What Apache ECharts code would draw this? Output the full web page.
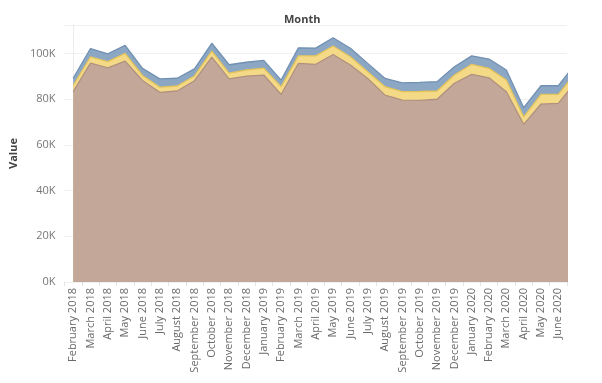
<!DOCTYPE html>
<html>
<head>
<meta charset="utf-8">
<script src="https://cdn.jsdelivr.net/npm/echarts@6/dist/echarts.min.js"></script>
<style>
html,body{margin:0;padding:0;background:#fff;}
#c{width:602px;height:383px;}
</style>
</head>
<body>
<div id="c"></div>
<script>
const months = ["February 2018","March 2018","April 2018","May 2018","June 2018","July 2018","August 2018","September 2018","October 2018","November 2018","December 2018","January 2019","February 2019","March 2019","April 2019","May 2019","June 2019","July 2019","August 2019","September 2019","October 2019","November 2019","December 2019","January 2020","February 2020","March 2020","April 2020","May 2020","June 2020"];
// last value of each series is July 2020, only partly visible at the right edge
const brownValues = [83300,95800,93700,96700,88200,83000,83600,88100,98400,88900,90100,90600,82100,95700,95300,99600,95000,89100,81800,79600,79500,80000,87000,90900,89400,83300,69000,77900,78200,87600];
const yellowValues = [2700,2800,2800,3400,2200,2300,2200,2100,2700,2500,2700,3000,3400,3300,3700,3700,3600,2900,3700,3700,3900,3600,3600,4400,4100,5100,3300,4200,3900,4000];
const blueValues = [3200,3600,3400,3500,3100,3600,3400,3100,3400,3700,3400,3400,2900,3500,3400,3600,3700,3700,3600,3900,4000,4100,3600,3700,4100,4400,4000,3800,3800,4100];
const yTicks = [0,20000,40000,60000,80000,100000];

// stacked tops (brown at bottom, yellow on it, blue on top)
const yellowTop = brownValues.map((v,i)=>v+yellowValues[i]);
const blueTop = yellowTop.map((v,i)=>v+blueValues[i]);
const toPairs = arr => arr.map((v,i)=>[i,v]);
const font = "'Open Sans', 'Noto Sans', sans-serif";

const chart = echarts.init(document.getElementById('c'), null, {renderer:'canvas'});
function areaSeries(name, data, fill, line, z){
  return {
    name, type:'line', xAxisIndex:1, data:toPairs(data), z,
    symbol:'none', smooth:false, clip:true,
    lineStyle:{color:line, width:1.3},
    areaStyle:{color:fill, opacity:1, origin:'start'},
    itemStyle:{color:fill}
  };
}
chart.setOption({
  animation:false,
  backgroundColor:'#fff',
  title:{text:'Month', left:279, top:9, textStyle:{fontFamily:font, fontSize:11, fontWeight:'bold', color:'#444'}},
  grid:{left:57, right:35, top:25, bottom:101},
  xAxis:[
    {type:'category', data:months, boundaryGap:true, position:'bottom',
     axisLine:{show:false},
     axisTick:{show:true, interval:0, length:4, lineStyle:{color:'#e2e2e2'}},
     axisLabel:{rotate:90, interval:0, margin:6, fontFamily:font, fontSize:11, color:'#6b6b6b'},
     splitLine:{show:false}},
    {type:'value', min:-0.5, max:28.5, show:false, splitLine:{show:false}}
  ],
  yAxis:{
    type:'value', min:0, max:112500, interval:20000,
    name:'Value', nameLocation:'middle', nameGap:40, nameRotate:90,
    nameTextStyle:{fontFamily:font, fontSize:11, fontWeight:'bold', color:'#444'},
    axisLine:{show:true, lineStyle:{color:'#ececec'}},
    axisTick:{show:false},
    axisLabel:{margin:9, fontFamily:font, fontSize:11, color:'#777',
      formatter:v => yTicks.includes(v) ? (v/1000)+'K' : ''},
    splitLine:{show:true, lineStyle:{color:'#f0f0f0'}}
  },
  series:[
    areaSeries('C', blueTop, '#8ba7c4', '#7190b2', 2),
    areaSeries('B', yellowTop, '#f4da86', '#e3c35c', 3),
    areaSeries('A', brownValues, '#c3a89a', '#b0917f', 4)
  ]
});
</script>
</body>
</html>
